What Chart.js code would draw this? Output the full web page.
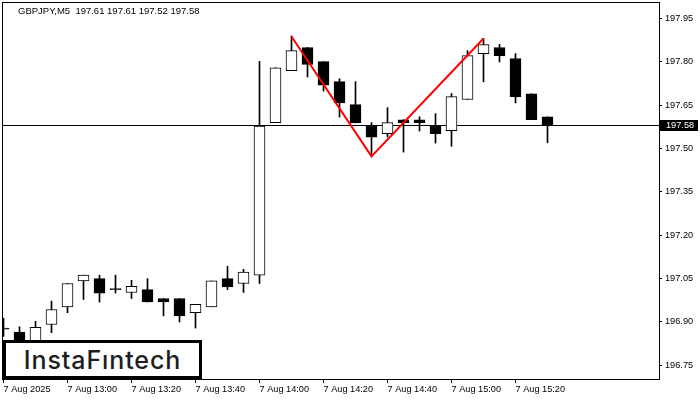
<!DOCTYPE html>
<html>
<head>
<meta charset="utf-8">
<script src="https://cdn.jsdelivr.net/npm/chart.js@4/dist/chart.umd.min.js"></script>
<style>
  html, body { margin: 0; padding: 0; background: #fff; }
  #wrap { position: relative; width: 700px; height: 400px; overflow: hidden; }
  #c { display: block; }
  #title { position: absolute; left: 18px; top: 5px; font: 9.5px "Liberation Sans", Arial, sans-serif; color: #000; white-space: pre; }
  #logo { position: absolute; left: 3px; top: 340px; width: 199px; height: 39px; box-sizing: border-box; border: 3px solid #000; background: #fff;
          display: flex; align-items: center; justify-content: center; font: 500 25px Inter, "Open Sans", sans-serif; color: #1e1e1e; letter-spacing: 0.9px; }
</style>
</head>
<body>
<div id="wrap">
  <canvas id="c" width="700" height="400"></canvas>
  <div id="title">GBPJPY,M5  197.61 197.61 197.52 197.58</div>
  <div id="logo">InstaFıntech</div>
</div>
<script>
// Candles: 5-minute bars, 7 Aug 12:40 .. 15:30
const opens  = [196.875,196.865,196.835,196.891,196.952,197.042,197.050,197.012,197.002,197.012,196.981,196.981,196.932,196.952,197.050,197.033,197.062,197.590,197.770,197.850,197.801,197.732,197.652,197.580,197.552,197.600,197.600,197.580,197.562,197.670,197.829,197.850,197.812,197.690,197.61];
const highs  = [196.913,196.883,196.902,196.972,197.033,197.062,197.062,197.062,197.044,197.050,196.981,196.981,196.961,197.042,197.093,197.082,197.802,197.780,197.890,197.850,197.801,197.742,197.732,197.590,197.642,197.600,197.610,197.621,197.691,197.839,197.881,197.861,197.829,197.690,197.61];
const lows   = [196.850,196.810,196.820,196.863,196.932,196.978,196.969,197.000,196.981,196.969,196.921,196.900,196.879,196.952,197.012,197.002,197.033,197.590,197.770,197.748,197.699,197.609,197.589,197.477,197.540,197.488,197.561,197.519,197.508,197.670,197.731,197.800,197.658,197.600,197.52];
const closes = [196.875,196.830,196.881,196.943,197.033,197.062,197.000,197.012,197.023,196.969,196.969,196.921,196.961,197.042,197.021,197.073,197.578,197.780,197.839,197.791,197.720,197.658,197.589,197.540,197.590,197.590,197.590,197.552,197.680,197.822,197.860,197.822,197.679,197.600,197.58];

// X tick labels (every 4th bar)
const tickIndices = [0, 4, 8, 12, 16, 20, 24, 28, 32];
const timeLabels  = ['7 Aug 2025','7 Aug 13:00','7 Aug 13:20','7 Aug 13:40','7 Aug 14:00','7 Aug 14:20','7 Aug 14:40','7 Aug 15:00','7 Aug 15:20'];

// Y tick labels
const priceTicks = [196.75, 196.90, 197.05, 197.20, 197.35, 197.50, 197.65, 197.80, 197.95];

// Double-top pattern (red)
const patternIdx   = [18, 23, 30];
const patternPrice = [197.888, 197.473, 197.881];

const lastPrice = 197.58;

const FONT = { family: '"Liberation Sans", Arial, sans-serif', size: 9.2 };

const framePlugin = {
  id: 'frame',
  beforeDatasetsDraw(chart) {
    const { ctx, chartArea: a, scales: { y } } = chart;
    const py = Math.round(y.getPixelForValue(lastPrice)) + 0.5;
    ctx.save();
    ctx.strokeStyle = '#000';
    ctx.lineWidth = 1;
    ctx.beginPath();
    ctx.moveTo(a.left, py);
    ctx.lineTo(a.right, py);
    ctx.stroke();
    ctx.restore();
  },
  afterDraw(chart) {
    const { ctx, chartArea: a, scales: { y } } = chart;
    ctx.save();
    ctx.strokeStyle = '#000';
    ctx.lineWidth = 1;
    ctx.strokeRect(a.left + 0.5, a.top + 0.5, a.right - a.left, a.bottom - a.top);
    const py = Math.round(y.getPixelForValue(lastPrice));
    ctx.fillStyle = '#000';
    ctx.fillRect(a.right + 1, py - 5, 38, 11);
    ctx.fillStyle = '#fff';
    ctx.font = '9.2px "Liberation Sans", Arial, sans-serif';
    ctx.textBaseline = 'middle';
    ctx.textAlign = 'left';
    ctx.fillText(lastPrice.toFixed(2), a.right + 7, py + 0.5);
    ctx.restore();
  }
};

const xMin = -0.09375;
const xMax = xMin + 657 / 16;

new Chart(document.getElementById('c'), {
  type: 'bar',
  data: {
    datasets: [
      {
        type: 'line',
        data: patternIdx.map((x, k) => ({ x, y: patternPrice[k] })),
        borderColor: '#ff0000',
        borderWidth: 2,
        pointRadius: 0,
        fill: false,
        tension: 0,
        order: 0
      },
      {
        data: opens.map((o, i) => ({ x: i, y: [o, closes[i]] })),
        backgroundColor: opens.map((o, i) => closes[i] > o ? '#ffffff' : '#000000'),
        borderColor: '#000',
        borderWidth: 1,
        borderSkipped: false,
        barThickness: 11,
        minBarLength: 1,
        grouped: false,
        order: 1
      },
      {
        data: opens.map((o, i) => ({ x: i, y: [lows[i], highs[i]] })),
        backgroundColor: '#000',
        borderWidth: 0,
        barThickness: 1,
        grouped: false,
        order: 2
      }
    ]
  },
  options: {
    responsive: false,
    animation: false,
    devicePixelRatio: 1,
    layout: { padding: { left: 2, top: 2, right: 0, bottom: 0 }, autoPadding: false },
    plugins: { legend: { display: false }, tooltip: { enabled: false }, title: { display: false } },
    scales: {
      x: {
        type: 'linear',
        min: xMin,
        max: xMax,
        offset: false,
        grid: { display: true, drawOnChartArea: false, drawTicks: true, tickLength: 4, color: '#000', offset: false },
        border: { display: true, color: '#000' },
        afterBuildTicks(scale) { scale.ticks = tickIndices.map(v => ({ value: v })); },
        afterFit(scale) { scale.height = 21; scale.paddingLeft = 0; scale.paddingRight = 0; },
        ticks: {
          autoSkip: false,
          maxRotation: 0,
          minRotation: 0,
          align: 'start',
          padding: 1,
          color: '#000',
          font: FONT,
          callback: (v) => { const k = tickIndices.indexOf(v); return k >= 0 ? timeLabels[k] : ''; }
        }
      },
      y: {
        type: 'linear',
        position: 'right',
        min: 196.7025,
        max: 198.0075,
        grid: { display: true, drawOnChartArea: false, drawTicks: true, tickLength: 3, color: '#000' },
        border: { display: true, color: '#000' },
        afterBuildTicks(scale) { scale.ticks = priceTicks.map(v => ({ value: v })); },
        afterFit(scale) { scale.width = 41; scale.paddingTop = 0; scale.paddingBottom = 0; },
        ticks: {
          autoSkip: false,
          padding: 3,
          color: '#000',
          font: FONT,
          callback: (v) => Number(v).toFixed(2)
        }
      }
    }
  },
  plugins: [framePlugin]
});
</script>
</body>
</html>
